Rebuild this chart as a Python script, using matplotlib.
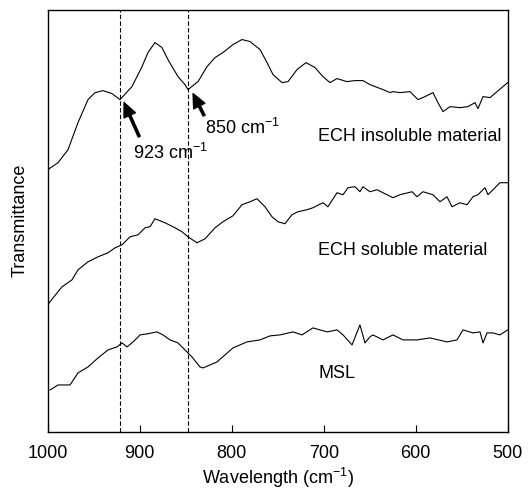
import matplotlib
matplotlib.use("Agg")
import matplotlib.pyplot as plt

plt.rcParams['font.family'] = ['Liberation Sans', 'DejaVu Sans']
plt.rcParams['mathtext.fontset'] = 'custom'
plt.rcParams['mathtext.rm'] = 'Liberation Sans'
plt.rcParams['mathtext.it'] = 'Liberation Sans'

#%% Spectra (wavenumber in cm-1, transmittance in a.u.)
insol_wn = [1000, 988.8, 977.9, 967.1, 956.2, 948.6, 939.9, 930.1, 921.4, 908.4,
            897.5, 891.0, 883.4, 875.8, 869.3, 858.4, 850.8, 847.5, 836.6, 826.8,
            818.1, 809.5, 798.6, 788.8, 780.1, 769.2, 761.6, 755.1, 745.3, 738.8,
            729.0, 719.2, 709.5, 700.8, 693.2, 685.5, 674.7, 666.0, 657.3, 649.7,
            635.5, 627.9, 624.7, 617.1, 606.2, 597.5, 589.9, 581.2, 575.8, 570.3,
            562.7, 551.8, 543.2, 535.5, 532.3, 526.8, 519.2, 511.6, 505.1, 500]
insol_t = [262, 269, 282, 309, 332, 339, 341, 338, 332, 345,
           365, 379, 389, 384, 372, 355, 347, 342, 350, 365,
           374, 379, 387, 392, 390, 382, 369, 357, 349, 350,
           362, 369, 364, 355, 349, 353, 350, 351, 351, 347,
           342, 339, 340, 339, 340, 332, 335, 339, 329, 320,
           325, 324, 325, 329, 323, 335, 334, 340, 345, 349]

sol_wn = [1000, 994.2, 984.5, 973.6, 967.1, 956.2, 945.3, 934.5, 926.8, 919.2,
          910.5, 901.8, 894.2, 888.8, 883.4, 872.5, 861.6, 854.0, 847.5, 837.7,
          829.0, 818.1, 809.5, 798.6, 788.8, 780.1, 772.5, 763.8, 756.2, 749.7,
          742.1, 734.5, 728.0, 718.2, 711.7, 700.8, 695.4, 685.5, 679.0, 673.6,
          666.0, 660.6, 657.3, 649.7, 642.1, 635.5, 624.7, 617.1, 604.0, 598.6,
          592.1, 581.2, 573.6, 566.0, 560.5, 551.8, 544.2, 537.7, 532.3, 524.7,
          521.4, 516.0, 508.4, 500]
sol_t = [127, 134, 145, 152, 162, 170, 175, 179, 184, 187,
         195, 197, 204, 205, 213, 209, 204, 200, 195, 189,
         193, 204, 210, 216, 227, 230, 233, 225, 215, 210,
         208, 217, 220, 222, 224, 229, 225, 239, 237, 244,
         245, 240, 245, 240, 242, 239, 234, 237, 240, 235,
         240, 237, 230, 235, 225, 229, 227, 235, 237, 244,
         237, 242, 249, 249]

msl_wn = [997.5, 988.8, 975.8, 967.1, 956.2, 945.3, 934.5, 924.7, 919.2, 913.8,
          907.2, 899.6, 892.0, 881.2, 874.7, 867.1, 858.4, 850.8, 847.5, 843.2,
          834.5, 831.2, 816.0, 798.6, 783.4, 769.2, 758.4, 747.5, 733.4, 723.6,
          711.7, 696.4, 685.5, 679.0, 669.2, 660.6, 655.1, 649.7, 646.5, 635.5,
          624.7, 613.8, 598.6, 584.5, 566.0, 555.1, 548.6, 537.7, 530.1, 526.8,
          522.5, 516.0, 508.4, 500]
msl_t = [42, 47, 47, 59, 65, 74, 82, 85, 89, 85,
         90, 97, 98, 100, 97, 92, 89, 82, 79, 75,
         65, 64, 70, 84, 90, 92, 96, 97, 100, 97,
         104, 100, 102, 97, 87, 107, 89, 95, 97, 92,
         97, 92, 92, 94, 90, 92, 102, 99, 100, 89,
         99, 99, 97, 102]

bands = [921, 848]
xticks = [1000, 900, 800, 700, 600, 500]

#%% Plot
fig = plt.figure(figsize=(5.29, 4.93), dpi=100)
ax = fig.add_axes([0.0902, 0.1237, 0.8695, 0.857])

for wn, t in [(insol_wn, insol_t), (sol_wn, sol_t), (msl_wn, msl_t)]:
    ax.plot(wn, t, color='black', linewidth=0.8)

for b in bands:
    ax.axvline(b, color='black', linestyle=(0, (4, 2)), linewidth=0.8)

ax.set_xlim(1000, 500)
ax.set_ylim(0, 422)
ax.set_xticks(xticks)
ax.set_yticks([])
ax.tick_params(axis='x', direction='in', length=5, labelsize=13, pad=9)
for s in ax.spines.values():
    s.set_linewidth(1.0)

arrow = dict(facecolor='black', edgecolor='black', width=1.6, headwidth=9,
             headlength=10, shrink=0)
ax.annotate('', xy=(917, 329), xytext=(900.5, 295), arrowprops=arrow)
ax.annotate('', xy=(842, 338), xytext=(830, 316), arrowprops=arrow)
ax.text(907, 279, r'923 cm$^{\mathregular{-1}}$', fontsize=13, va='center')
ax.text(829, 304, r'850 cm$^{\mathregular{-1}}$', fontsize=13, va='center')

ax.text(706, 295, 'ECH insoluble material', fontsize=13, va='center')
ax.text(706, 181, 'ECH soluble material', fontsize=13, va='center')
ax.text(706, 58, 'MSL', fontsize=13, va='center')

ax.set_xlabel(r'Wavelength (cm$^{\mathregular{-1}}$)', fontsize=13, labelpad=3)
ax.set_ylabel('Transmittance', fontsize=13, labelpad=14)

fig.savefig('out.png', dpi=100)
